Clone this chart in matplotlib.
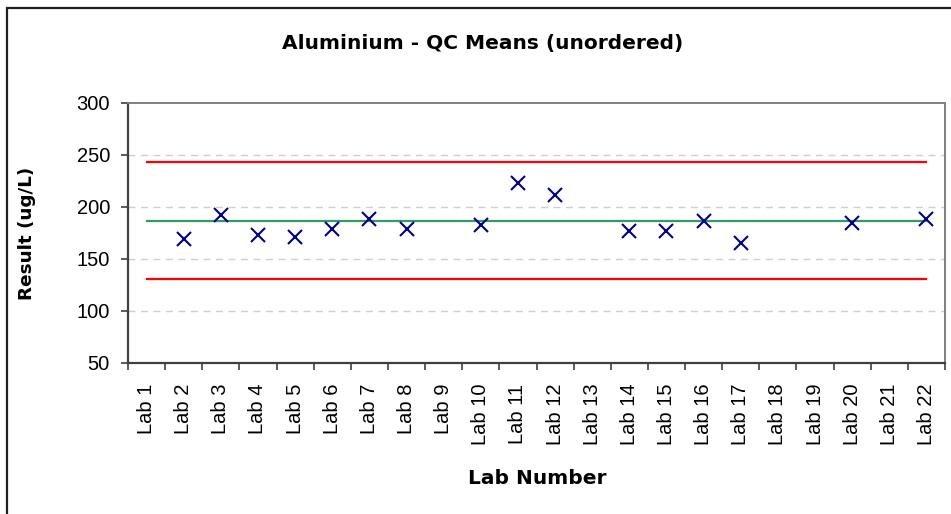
import numpy as np
import matplotlib
matplotlib.use('Agg')
import matplotlib.pyplot as plt
import matplotlib.patches as patches
from matplotlib.ticker import FixedLocator, NullFormatter

# data
labs = ['Lab %d' % i for i in range(1, 23)]
qc_means = [np.nan, 169.2, 192.3, 173.1, 171.2, 179.2, 188.5, 179.2, np.nan, 182.7,
            223.4, 211.5, np.nan, 176.9, 176.9, 186.8, 165.1, np.nan, np.nan, 184.6,
            np.nan, 188.5]
grand_mean = 187.0
upper_limit = 243.0
lower_limit = 131.0

W, H = 951, 514
fig = plt.figure(figsize=(W / 100, H / 100), dpi=100)
ax = fig.add_axes([128 / W, 1 - 363 / H, (945 - 128) / W, (363 - 103) / H])

x = np.arange(len(labs))

# control lines (lab 1 .. lab 22)
ax.plot([x[0], x[-1]], [upper_limit, upper_limit], color='#FF0000', lw=1.6, zorder=2)
ax.plot([x[0], x[-1]], [lower_limit, lower_limit], color='#FF0000', lw=1.6, zorder=2)
ax.plot([x[0], x[-1]], [grand_mean, grand_mean], color='#339966', lw=1.6, zorder=2)

ax.plot(x, qc_means, linestyle='none', marker='x', color='#000080',
        markersize=9.5, markeredgewidth=1.5, zorder=3)

ax.set_xlim(-0.5, len(labs) - 0.5)
ax.set_ylim(50, 300)
ax.set_yticks([50, 100, 150, 200, 250, 300])

for yv in [100, 150, 200, 250]:
    ax.axhline(yv, color='#CFCFCF', lw=1.0, ls=(0, (5, 4)), zorder=1)

ax.set_xticks(x)
ax.set_xticklabels(labs, rotation=90, fontsize=14.5, family='Liberation Sans')
ax.xaxis.set_minor_locator(FixedLocator(np.arange(-0.5, len(labs), 1.0)))
ax.xaxis.set_minor_formatter(NullFormatter())
ax.tick_params(axis='x', which='major', length=0, pad=15)
ax.tick_params(axis='x', which='minor', length=5, width=1.2, color='#404040', direction='out')
ax.tick_params(axis='y', length=5, width=1.2, color='#404040', direction='out', pad=8)
for lbl in ax.get_yticklabels():
    lbl.set_fontsize(14.5)
    lbl.set_family('Liberation Sans')

ax.spines['left'].set_color('#404040')
ax.spines['left'].set_linewidth(1.6)
ax.spines['bottom'].set_color('#404040')
ax.spines['bottom'].set_linewidth(1.6)
ax.spines['top'].set_color('#808080')
ax.spines['top'].set_linewidth(1.4)
ax.spines['right'].set_color('#808080')
ax.spines['right'].set_linewidth(1.4)

fig.text(483 / W, 1 - 43 / H, 'Aluminium - QC Means (unordered)', ha='center', va='center',
         fontsize=14.5, fontweight='bold', family='DejaVu Sans')
fig.text(27 / W, 1 - 233 / H, 'Result (ug/L)', ha='center', va='center', rotation=90,
         fontsize=13.2, fontweight='bold', family='DejaVu Sans')
fig.text(537 / W, 1 - 479 / H, 'Lab Number', ha='center', va='center',
         fontsize=14.5, fontweight='bold', family='DejaVu Sans')

# outer chart border (right and bottom edges fall outside the picture)
fig.patches.append(patches.Rectangle((7 / W, -0.1), 1.2, 1 - 8 / H + 0.1,
                                     transform=fig.transFigure, fill=False,
                                     edgecolor='#202020', lw=1.6))

fig.savefig('out.png', dpi=100)
